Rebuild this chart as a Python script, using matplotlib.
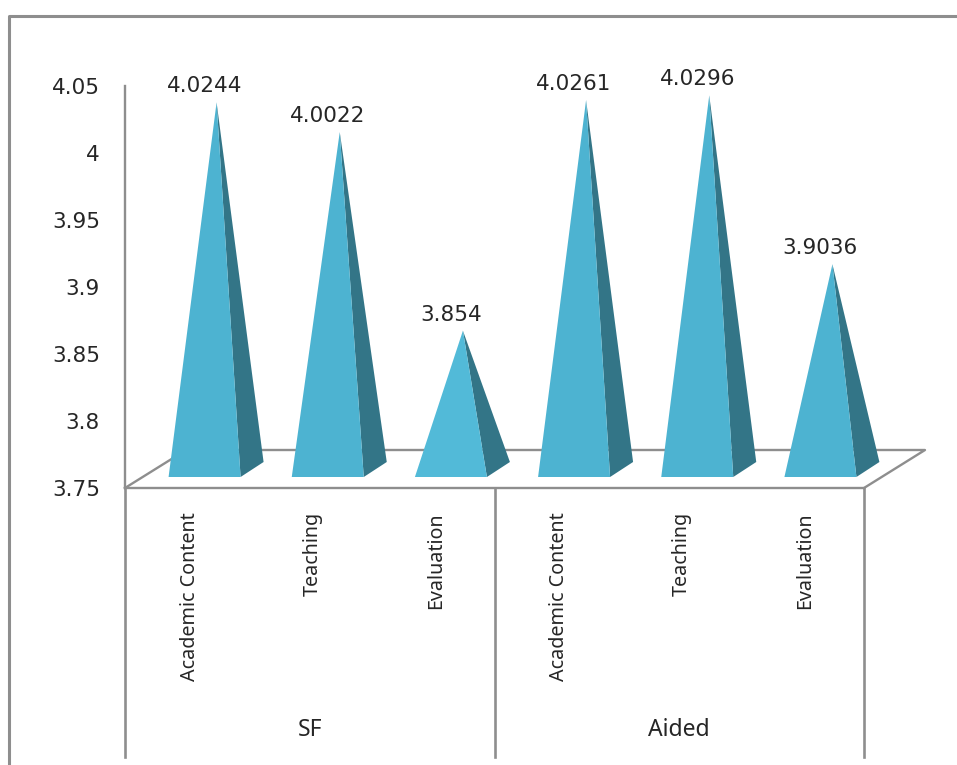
import matplotlib
matplotlib.use("Agg")
import matplotlib.pyplot as plt
from matplotlib.lines import Line2D
from matplotlib.patches import Polygon

groups = ["SF", "Aided"]
categories = ["Academic Content", "Teaching", "Evaluation",
              "Academic Content", "Teaching", "Evaluation"]
values = [4.0244, 4.0022, 3.854, 4.0261, 4.0296, 3.9036]
value_labels = ["4.0244", "4.0022", "3.854", "4.0261", "4.0296", "3.9036"]
y_ticks = [3.75, 3.8, 3.85, 3.9, 3.95, 4, 4.05]
y_tick_labels = ["3.75", "3.8", "3.85", "3.9", "3.95", "4", "4.05"]

W, H = 957, 765
GRAY = "#8e8e8e"
FRONT = "#4db3d1"
FRONT_LOW = "#52bad8"  # the short pyramid renders a bit lighter
SIDE = "#337587"
TEXT = "#262626"

fig = plt.figure(figsize=(W / 100, H / 100), dpi=100, facecolor="white")
# axes box in pixels: x 125-864, y 86-488
ax = fig.add_axes([125 / W, 1 - 488 / H, 739 / W, 402 / H])
ax.set_xlim(0, 6)
ax.set_ylim(3.75, 4.05)
ax.patch.set_alpha(0)

# pixel sizes in data units
px = 6 / 739
py = 0.3 / 402

for s in ["top", "right"]:
    ax.spines[s].set_visible(False)
for s in ["left", "bottom"]:
    ax.spines[s].set_color(GRAY)
    ax.spines[s].set_linewidth(1.7)

ax.set_xticks([])
ax.set_yticks(y_ticks)
ax.set_yticklabels(y_tick_labels, fontsize=15.5, color=TEXT, family="DejaVu Sans")
ax.tick_params(axis="y", length=0, pad=18)

# floor of the 3d chart
floor_x = [0, 61 * px, 6 + 61 * px, 6]
floor_y = [3.75, 3.75 + 38 * py, 3.75 + 38 * py, 3.75]
ax.plot(floor_x, floor_y, color=GRAY, lw=1.7, clip_on=False, zorder=1)

# separators under the axis
for x in [0, 3, 6]:
    ax.plot([x, x], [3.75, 3.75 - 269 * py], color=GRAY, lw=1.9, clip_on=False, zorder=1)

# pyramids
half = 36 * px
for i, v in enumerate(values):
    c = i + 0.5 + 18 * px
    base = 3.75 + 11 * py
    tip = (c + 12 * px, v + 18 * py)
    front = [(c - half, base), (c + half, base), tip]
    side = [(c + half, base), (c + half + 23 * px, base + 15 * py), tip]
    fc = FRONT_LOW if v < 3.9 else FRONT
    ax.add_patch(Polygon(front, closed=True, fc=fc, ec="none", clip_on=False, zorder=3))
    ax.add_patch(Polygon(side, closed=True, fc=SIDE, ec="none", clip_on=False, zorder=2))
    ax.text(c, v + 34 * py, value_labels[i], ha="center", va="center",
            fontsize=15.5, color=TEXT, family="DejaVu Sans", clip_on=False)
    ax.text(i + 0.5 + 3 * px, 3.75 - 24 * py, categories[i], rotation=90, ha="center", va="top",
            fontsize=14.2, color=TEXT, family="Noto Sans", clip_on=False)

for j, g in enumerate(groups):
    ax.text(1.5 + 3 * j, 3.75 - 242 * py, g, ha="center", va="center",
            fontsize=16.5, color=TEXT, family="Noto Sans", clip_on=False)

# outer chart border, cut by the image edge
fig.add_artist(Line2D([9 / W, 9 / W, 1], [0, 1 - 16 / H, 1 - 16 / H], color=GRAY, lw=2.2))

fig.savefig("out.png", dpi=100)
